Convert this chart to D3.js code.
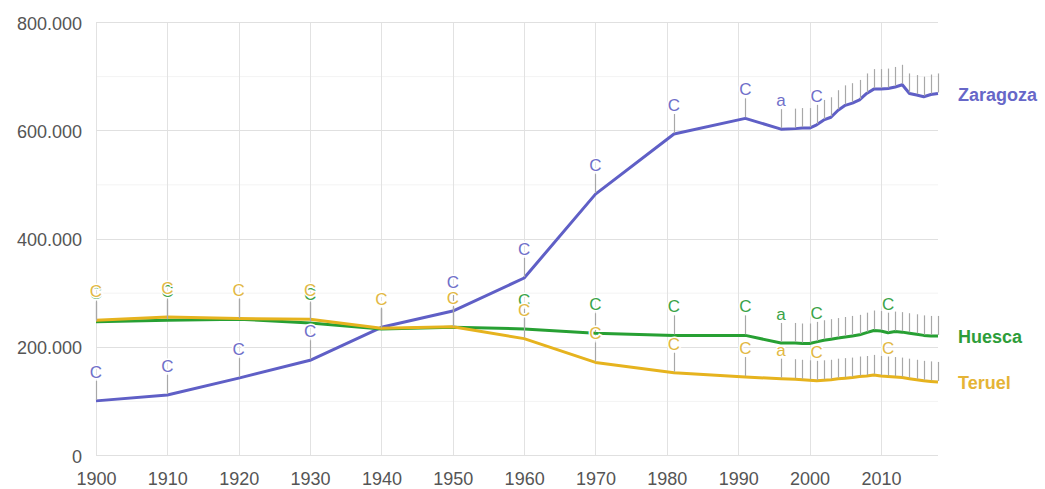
<!DOCTYPE html>
<html>
<head>
<meta charset="utf-8">
<script src="https://cdn.jsdelivr.net/npm/d3@7"></script>
<style>
  html, body { margin: 0; padding: 0; background: #fff; }
  svg { display: block; font-family: Arial, "Liberation Sans", sans-serif; }
</style>
</head>
<body>
<svg id="chart" width="1045" height="489"></svg>
<script>
const years = [1900,1910,1920,1930,1940,1950,1960,1970,1981,1991,1996,
  1998,1999,2000,2001,2002,2003,2004,2005,2006,2007,2008,2009,2010,
  2011,2012,2013,2014,2015,2016,2017,2018];

const zaragoza = [100000,111000,142000,175000,236000,266000,327000,482000,593000,622000,602000,
  603000,604000,604000,610000,619000,624000,637000,646000,650000,656000,668000,676000,676000,
  677000,680000,684000,668000,665000,662000,666000,668000];
const huesca = [246000,249000,251000,244000,233000,236000,233000,225000,221000,221000,207000,
  207000,206000,206000,209000,212000,214000,216000,218000,220000,222000,226000,230000,229000,
  226000,228000,227000,225000,223000,221000,220000,220000];
const teruel = [249000,255000,252000,251000,234000,237000,215000,171000,152000,144000,141000,
  140000,139000,138000,137000,138000,139000,141000,142000,143000,145000,146000,148000,146000,
  145000,144000,143000,141000,139000,137000,136000,135000];

const zaragozaNotes = ["C","C","C","C","C","C","C","C","C","C","a",
  "","","","C","","","","","","","","","",
  "","","","","","","",""];
const huescaNotes = ["C","C","C","C","C","C","C","C","C","C","a",
  "","","","C","","","","","","","","","",
  "C","","","","","","",""];
const teruelNotes = huescaNotes.slice();

const seriesNames = ["Zaragoza","Huesca","Teruel"];
const seriesColors = ["#5f5fc6","#27a033","#e6b31e"];
const noteColors = ["#6f6fc9","#3aa348","#e2b843"];
const labelColors = ["#6767c8","#2d9d39","#e5b436"];
const xTicks = [1900,1910,1920,1930,1940,1950,1960,1970,1980,1990,2000,2010];
const yTicks = [0,200000,400000,600000,800000];
const yMinor = [100000,300000,500000,700000];

const seriesValues = [zaragoza, huesca, teruel];
const seriesNotes = [zaragozaNotes, huescaNotes, teruelNotes];

const svg = d3.select("#chart");
const x = d3.scaleLinear().domain([1900, 2018]).range([96, 938]);
const y = d3.scaleLinear().domain([0, 800000]).range([455, 22]);
const loc = d3.formatLocale({decimal: ",", thousands: ".", grouping: [3], currency: ["", ""]});
const fmt = loc.format(",");

// grid
const grid = svg.append("g");
grid.selectAll(".minor").data(yMinor).join("line")
  .attr("x1", x(1900)).attr("x2", x(2018))
  .attr("y1", d => y(d) + 0.5).attr("y2", d => y(d) + 0.5)
  .attr("stroke", "#f3f3f3").attr("stroke-width", 1);
grid.selectAll(".vgrid").data(xTicks).join("line")
  .attr("x1", d => Math.round(x(d)) + 0.5).attr("x2", d => Math.round(x(d)) + 0.5)
  .attr("y1", y(800000)).attr("y2", y(0))
  .attr("stroke", "#e2e2e2").attr("stroke-width", 1);
grid.selectAll(".hgrid").data(yTicks).join("line")
  .attr("x1", x(1900)).attr("x2", x(2018))
  .attr("y1", d => Math.round(y(d)) + 0.5).attr("y2", d => Math.round(y(d)) + 0.5)
  .attr("stroke", "#e0e0e0").attr("stroke-width", 1);

// axes (labels only, via d3 axes)
const yAxis = d3.axisLeft(y).tickValues(yTicks).tickFormat(fmt).tickSize(0).tickPadding(0);
const yg = svg.append("g").attr("transform", "translate(82,0)").call(yAxis);
yg.select(".domain").remove();
yg.selectAll("text").attr("font-size", 18).attr("fill", "#555")
  .attr("font-family", "Arial, 'Liberation Sans', sans-serif").attr("dy", "0.4em");

const xAxis = d3.axisBottom(x).tickValues(xTicks).tickFormat(d3.format("d")).tickSize(0).tickPadding(0);
const xg = svg.append("g").attr("transform", "translate(0,472)").call(xAxis);
xg.select(".domain").remove();
xg.selectAll("text").attr("font-size", 18).attr("fill", "#555")
  .attr("font-family", "Arial, 'Liberation Sans', sans-serif").attr("dy", "0.72em");

// lines
const line = d3.line().x(d => x(d[0])).y(d => y(d[1]));
seriesValues.forEach((vals, i) => {
  svg.append("path")
    .datum(years.map((yr, j) => [yr, vals[j]]))
    .attr("d", line)
    .attr("fill", "none")
    .attr("stroke", seriesColors[i])
    .attr("stroke-width", 3)
    .attr("stroke-linejoin", "round");
});

// annotations: stems then text
const stemLen = 20;
seriesValues.forEach((vals, i) => {
  const g = svg.append("g");
  years.forEach((yr, j) => {
    const px = Math.round(x(yr)) + 0.5;
    const py = y(vals[j]);
    g.append("line")
      .attr("x1", px).attr("x2", px)
      .attr("y1", py - 1).attr("y2", py - stemLen)
      .attr("stroke", "#a8a8a8").attr("stroke-width", 1.2);
  });
});
seriesValues.forEach((vals, i) => {
  const g = svg.append("g");
  years.forEach((yr, j) => {
    const t = seriesNotes[i][j];
    if (!t) return;
    g.append("text")
      .attr("x", x(yr)).attr("y", y(vals[j]) - 23)
      .attr("text-anchor", "middle")
      .attr("font-size", 17)
      .attr("fill", noteColors[i])
      .attr("stroke", "#fff").attr("stroke-width", 3)
      .attr("paint-order", "stroke")
      .text(t);
  });
});

// series labels
seriesValues.forEach((vals, i) => {
  svg.append("text")
    .attr("x", 958)
    .attr("y", y(vals[vals.length - 1]) + 7.5)
    .attr("font-size", 18)
    .attr("font-weight", "bold")
    .attr("fill", labelColors[i])
    .text(seriesNames[i]);
});
</script>
</body>
</html>
